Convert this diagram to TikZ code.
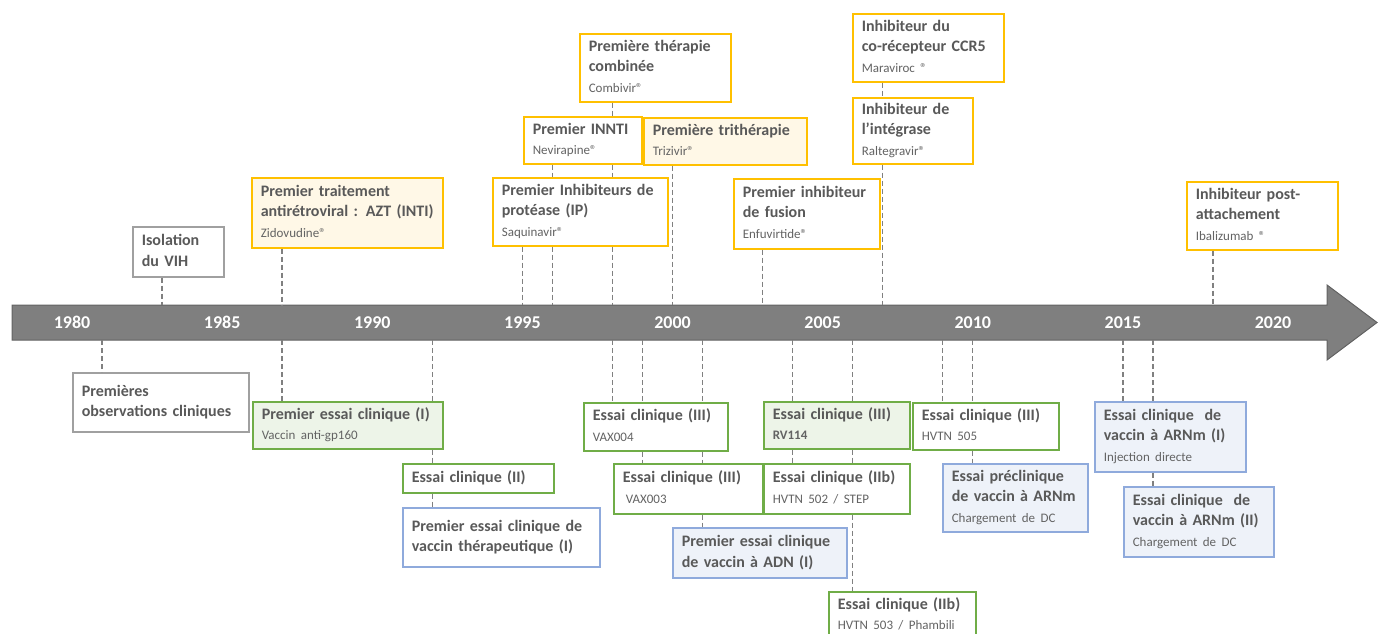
\documentclass[tikz,border=0pt]{standalone}
\usepackage{fontspec}
\usetikzlibrary{calc}
\setmainfont{Carlito}
\definecolor{txt}{HTML}{595959}
\definecolor{subtxt}{HTML}{636363}
\definecolor{yel}{HTML}{FFC000}
\definecolor{yelfill}{HTML}{FFF8E7}
\definecolor{grn}{HTML}{70AD47}
\definecolor{grnfill}{HTML}{EDF4E8}
\definecolor{blu}{HTML}{8FAADC}
\definecolor{blufill}{HTML}{EEF2F9}
\definecolor{gry}{HTML}{A0A0A0}
\definecolor{barfill}{HTML}{7F7F7F}
\definecolor{baredge}{HTML}{626262}
\definecolor{connc}{HTML}{808080}
\newcommand\ttl{\fontsize{16}{20.3}\selectfont\bfseries}
\newcommand\sbt{\fontsize{13}{20.3}\selectfont\mdseries\color{subtxt}}
\newcommand\blk[1]{\begin{tabular}{@{}l@{}}#1\end{tabular}}
\begin{document}
\begin{tikzpicture}[x=1pt,y=-1pt,
  box/.style={draw, line width=1.6pt, anchor=north west, inner xsep=9pt, inner ysep=0pt,
    align=left, font=\ttl, text=txt, fill=white},
  ybox/.style={box, draw=yel},
  gbox/.style={box, draw=grn},
  bbox/.style={box, draw=blu},
  nbox/.style={box, draw=gry},
  conn/.style={draw=connc, line width=1.4pt, dash pattern=on 5pt off 3pt},
  smalltick/.style={draw=barfill, line width=1.5pt},
  bigtick/.style={draw=barfill, line width=4pt},
  yearlab/.style={text=white, font=\fontsize{18}{20}\selectfont\bfseries, inner sep=0pt}
]
\useasboundingbox (0,0) rectangle (1378,634);

% ---- timeline ----
\foreach \y in {1980,...,2020}{
  \coordinate (T\y) at ({72+30.025*(\y-1980)},305);
  \coordinate (B\y) at ({72+30.025*(\y-1980)},340);
}
\foreach \y in {1981,...,1984,1986,1987,1988,1989,1991,1992,1993,1994,1996,1997,1998,1999,2001,2002,2003,2004,2006,2007,2008,2009,2011,2012,2013,2014,2016,2017,2018,2019}{
  \draw[smalltick] ([yshift=-6pt]T\y) -- ([yshift=6pt]B\y);
}
\foreach \y in {1980,1985,1990,1995,2000,2005,2010,2015,2020}{
  \draw[bigtick] ([yshift=-10pt]T\y) -- ([yshift=10pt]B\y);
}
\draw[fill=barfill, draw=baredge, line width=1pt]
  (12,305) -- (1327,305) -- (1327,285) -- (1377,322.5) -- (1327,360) -- (1327,340) -- (12,340) -- cycle;
\foreach \y in {1980,1985,1990,1995,2000,2005,2010,2015,2020}{
  \node[yearlab] (lab\y) at ($(T\y)!0.5!(B\y)$) {\y};
}

% ---- upper boxes ----
\node[nbox, text width=73pt, minimum height=50pt] (iso) at (132,226) {\blk{Isolation\\du VIH}};
\node[ybox, fill=yelfill, text width=173pt, minimum height=70pt] (azt) at (251,177)
  {\blk{Premier traitement\\antirétroviral : AZT (INTI)\\{\sbt Zidovudine®}}};
\node[ybox, text width=133pt, minimum height=68pt] (comb) at (579,33)
  {\blk{Première thérapie\\combinée\\{\sbt Combivir®}}};
\node[ybox, text width=100pt, minimum height=47pt] (innti) at (523,116)
  {\blk{Premier INNTI\\{\sbt Nevirapine®}}};
\node[ybox, fill=yelfill, text width=145pt, minimum height=47pt] (tri) at (643,117)
  {\blk{Première trithérapie\\{\sbt Trizivir®}}};
\node[ybox, text width=157pt, minimum height=68pt] (ip) at (492,177)
  {\blk{Premier Inhibiteurs de\\protéase (IP)\\{\sbt Saquinavir®}}};
\node[ybox, text width=128pt, minimum height=70pt] (fus) at (733,178)
  {\blk{Premier inhibiteur\\de fusion\\{\sbt Enfuvirtide®}}};
\node[ybox, text width=133pt, minimum height=68pt] (ccr) at (852,13)
  {\blk{Inhibiteur du\\co-récepteur CCR5\\{\sbt Maraviroc ®}}};
\node[ybox, text width=102pt, minimum height=66pt] (integ) at (852,97)
  {\blk{Inhibiteur de\\l’intégrase\\{\sbt Raltegravir®}}};
\node[ybox, text width=133pt, minimum height=68pt] (post) at (1186,181)
  {\blk{Inhibiteur post-\\attachement\\{\sbt Ibalizumab ®}}};

% ---- lower boxes ----
\node[nbox, text width=158pt, minimum height=59pt] (obs) at (72,372)
  {\blk{Premières\\observations cliniques}};
\node[gbox, fill=grnfill, text width=172pt, minimum height=47pt] (e1) at (252,401)
  {\blk{Premier essai clinique (I)\\{\sbt Vaccin anti-gp160}}};
\node[gbox, text width=133pt, minimum height=29pt] (e2) at (402,463)
  {\blk{Essai clinique (II)}};
\node[bbox, text width=179pt, minimum height=59pt] (ther) at (402,507)
  {\blk{Premier essai clinique de\\vaccin thérapeutique (I)}};
\node[gbox, text width=126pt, minimum height=48pt] (vax4) at (583,402)
  {\blk{Essai clinique (III)\\{\sbt VAX004}}};
\node[gbox, text width=131pt, minimum height=50pt] (vax3) at (613,463)
  {\blk{Essai clinique (III)\\{\sbt\hspace{3pt}VAX003}}};
\node[gbox, fill=grnfill, text width=128pt, minimum height=47pt] (rv) at (763,401)
  {\blk{Essai clinique (III)\\{\sbt\bfseries RV114}}};
\node[gbox, text width=128pt, minimum height=50pt] (step) at (763,463)
  {\blk{Essai clinique (IIb)\\{\sbt HVTN 502 / STEP}}};
\node[bbox, fill=blufill, text width=156pt, minimum height=50pt] (adn) at (672,527)
  {\blk{Premier essai clinique\\de vaccin à ADN (I)}};
\node[gbox, text width=129pt, minimum height=47pt] (h503) at (828,591)
  {\blk{Essai clinique (IIb)\\{\sbt HVTN 503 / Phambili}}};
\node[gbox, text width=128pt, minimum height=47pt] (h505) at (912,402)
  {\blk{Essai clinique (III)\\{\sbt HVTN 505}}};
\node[bbox, fill=blufill, text width=127pt, minimum height=68pt] (pre) at (942,463)
  {\blk{Essai préclinique\\de vaccin à ARNm\\{\sbt Chargement de DC}}};
\node[bbox, fill=blufill, text width=133pt, minimum height=70pt] (arn1) at (1094,401)
  {\blk{Essai clinique~ de\\vaccin à ARNm (I)\\{\sbt Injection directe}}};
\node[bbox, fill=blufill, text width=132pt, minimum height=70pt] (arn2) at (1123,486)
  {\blk{Essai clinique~ de\\vaccin à ARNm (II)\\{\sbt Chargement de DC}}};

% ---- upper connectors ----
\draw[conn] (iso.south -| T1983) -- (T1983);
\draw[conn] (azt.south -| T1987) -- (T1987);
\draw[conn] (ip.south -| T1995) -- (T1995);
\draw[conn] (innti.south -| T1996) -- (ip.north -| T1996);
\draw[conn] (ip.south -| T1996) -- (T1996);
\draw[conn] (comb.south -| T1998) -- (innti.north -| T1998);
\draw[conn] (innti.south -| T1998) -- (ip.north -| T1998);
\draw[conn] (ip.south -| T1998) -- (T1998);
\draw[conn] (tri.south -| T2000) -- (T2000);
\draw[conn] (fus.south -| T2003) -- (T2003);
\draw[conn] (ccr.south -| T2007) -- (integ.north -| T2007);
\draw[conn] (integ.south -| T2007) -- (T2007);
\draw[conn] (post.south -| T2018) -- (T2018);

% ---- lower connectors ----
\draw[conn] (B1981) -- (obs.north -| B1981);
\draw[conn] (B1987) -- (e1.north -| B1987);
\draw[conn] (B1992) -- (e1.north -| B1992);
\draw[conn] (e1.south -| B1992) -- (e2.north -| B1992);
\draw[conn] (e2.south -| B1992) -- (ther.north -| B1992);
\draw[conn] (B1998) -- (vax4.north -| B1998);
\draw[conn] (B1999) -- (vax4.north -| B1999);
\draw[conn] (vax4.south -| B1999) -- (vax3.north -| B1999);
\draw[conn] (B2001) -- (vax4.north -| B2001);
\draw[conn] (vax4.south -| B2001) -- (vax3.north -| B2001);
\draw[conn] (vax3.south -| B2001) -- (adn.north -| B2001);
\draw[conn] (B2004) -- (rv.north -| B2004);
\draw[conn] (rv.south -| B2004) -- (step.north -| B2004);
\draw[conn] (B2006) -- (rv.north -| B2006);
\draw[conn] (rv.south -| B2006) -- (step.north -| B2006);
\draw[conn] (step.south -| B2006) -- (h503.north -| B2006);
\draw[conn] (B2009) -- (h505.north -| B2009);
\draw[conn] (B2010) -- (h505.north -| B2010);
\draw[conn] (h505.south -| B2010) -- (pre.north -| B2010);
\draw[conn] (B2015) -- (arn1.north -| B2015);
\draw[conn] (B2016) -- (arn1.north -| B2016);
\draw[conn] (arn1.south -| B2016) -- (arn2.north -| B2016);
\end{tikzpicture}
\end{document}
